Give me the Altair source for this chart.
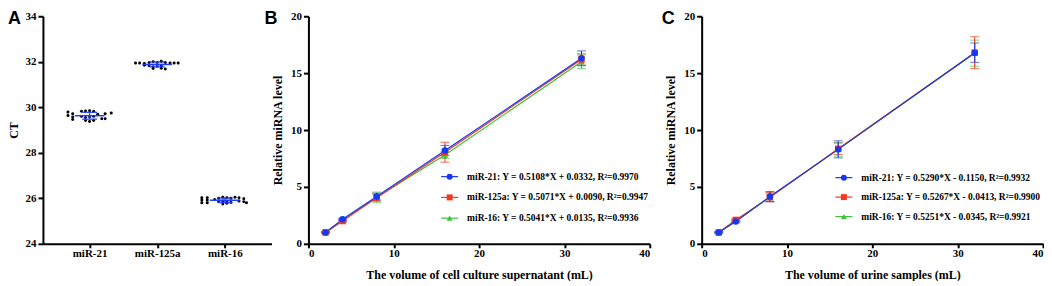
import altair as alt
import pandas as pd

# ---------------- Panel A data (CT values, dot offsets in category units) ----------------
groups = ["miR-21", "miR-125a", "miR-16"]

ct_mir21 = [29.79, 29.64, 29.72, 29.57, 29.46, 29.82, 29.84, 29.85, 29.82, 29.60, 29.55,
            29.57, 29.60, 29.69, 29.42, 29.38, 29.42, 29.50, 29.72, 29.50, 29.75]
off_mir21 = [-0.32, -0.32, -0.25, -0.25, -0.25, -0.12, -0.06, 0.0, 0.06, -0.12, -0.06,
             0.0, 0.06, 0.12, -0.06, 0.0, 0.06, 0.18, 0.23, 0.23, 0.32]

ct_mir125a = [31.95, 31.95, 31.92, 31.85, 31.97, 32.00, 31.97, 32.02, 31.97, 31.82,
              31.78, 31.80, 31.82, 31.70, 31.72, 31.68, 31.95, 31.95, 31.95]
off_mir125a = [-0.32, -0.26, -0.19, -0.19, -0.12, -0.06, 0.0, 0.06, 0.12, -0.12,
               -0.06, 0.0, 0.06, -0.06, 0.06, 0.12, 0.19, 0.25, 0.31]

ct_mir16 = [26.02, 25.92, 25.80, 26.02, 25.92, 25.80, 25.95, 26.00, 26.05, 26.02, 26.00,
            26.05, 25.85, 25.88, 25.85, 25.82, 25.75, 25.78, 26.02, 25.88, 25.98, 25.85, 25.80]
off_mir16 = [-0.34, -0.34, -0.34, -0.26, -0.26, -0.26, -0.15, -0.09, -0.03, 0.03, 0.09,
             0.15, -0.09, -0.03, 0.03, 0.09, -0.03, 0.03, 0.21, 0.21, 0.28, 0.28, 0.32]

# ---------------- Panels B / C data ----------------
volumes = [2, 4, 8, 16, 32]
series = ["miR-21", "miR-125a", "miR-16"]

b_mean_mir21 = [1.00, 2.15, 4.15, 8.20, 16.30]
b_sd_mir21 = [0.05, 0.10, 0.30, 0.45, 0.65]
b_mean_mir125a = [1.00, 2.00, 4.05, 8.05, 16.20]
b_sd_mir125a = [0.05, 0.10, 0.30, 0.88, 0.50]
b_mean_mir16 = [1.00, 2.05, 4.10, 7.80, 16.00]
b_sd_mir16 = [0.05, 0.10, 0.45, 0.30, 0.60]

c_mean_mir21 = [1.00, 1.96, 4.15, 8.30, 16.80]
c_sd_mir21 = [0.05, 0.10, 0.45, 0.75, 0.85]
c_mean_mir125a = [1.00, 2.10, 4.10, 8.35, 16.80]
c_sd_mir125a = [0.05, 0.10, 0.40, 0.50, 1.40]
c_mean_mir16 = [1.00, 2.05, 4.10, 8.30, 16.75]
c_sd_mir16 = [0.05, 0.10, 0.35, 0.60, 1.15]

b_labels = ["miR-21: Y = 0.5108*X + 0.0332, R\u00b2=0.9970",
            "miR-125a: Y = 0.5071*X + 0.0090, R\u00b2=0.9947",
            "miR-16: Y = 0.5041*X + 0.0135, R\u00b2=0.9936"]
c_labels = ["miR-21: Y = 0.5290*X - 0.1150, R\u00b2=0.9932",
            "miR-125a: Y = 0.5267*X - 0.0413, R\u00b2=0.9900",
            "miR-16: Y = 0.5251*X - 0.0345, R\u00b2=0.9921"]

colors = ["#1538f2", "#f5381c", "#3cc43c"]
shapes = ["circle", "square", "triangle-up"]
SERIF = "Liberation Serif"
SANS = "Liberation Sans"

color_scale = alt.Scale(domain=series, range=colors)
shape_scale = alt.Scale(domain=series, range=shapes)


def letter(ch, dx):
    return alt.Chart(pd.DataFrame({"t": [ch]})).mark_text(
        font=SANS, fontWeight="bold", fontSize=18, align="left", baseline="top", color="black"
    ).encode(text="t:N", x=alt.value(dx), y=alt.value(-6))


# ---------------- Panel A ----------------
rows = []
for gi, (cts, offs) in enumerate([(ct_mir21, off_mir21), (ct_mir125a, off_mir125a), (ct_mir16, off_mir16)]):
    for ct, off in zip(cts, offs):
        rows.append({"group": groups[gi], "idx": gi, "pos": gi + off, "ct": ct})
dfA = pd.DataFrame(rows)

label_expr = "[" + ",".join("'%s'" % g for g in groups) + "][datum.value]"
xA = alt.X("pos:Q", scale=alt.Scale(domain=[-0.69, 2.69], nice=False, zero=False),
           axis=alt.Axis(values=[0, 1, 2], labelExpr=label_expr, title=None,
                         labelPadding=0, tickSize=4))
yA = alt.Y("ct:Q", scale=alt.Scale(domain=[24, 34], nice=False, zero=False),
           axis=alt.Axis(values=[24, 26, 28, 30, 32, 34], title="CT", titlePadding=4))

dotsA = alt.Chart(dfA).mark_circle(size=9, color="black", opacity=1).encode(x=xA, y=yA)

statsA = alt.Chart(dfA).transform_aggregate(
    m="mean(ct)", s="stdev(ct)", groupby=["idx"]
).transform_calculate(
    lo="datum.m - datum.s", hi="datum.m + datum.s",
    ml="datum.idx - 0.22", mr="datum.idx + 0.22",
    cl="datum.idx - 0.11", cr="datum.idx + 0.11",
)
blue = "#1f3cff"
meanA = statsA.mark_rule(color=blue, strokeWidth=1.5).encode(x="ml:Q", x2="mr:Q", y="m:Q")
sdA = statsA.mark_rule(color=blue, strokeWidth=1.2).encode(x="idx:Q", y="lo:Q", y2="hi:Q")
capLoA = statsA.mark_rule(color=blue, strokeWidth=1.2).encode(x="cl:Q", x2="cr:Q", y="lo:Q")
capHiA = statsA.mark_rule(color=blue, strokeWidth=1.2).encode(x="cl:Q", x2="cr:Q", y="hi:Q")

panelA = alt.layer(dotsA, meanA, sdA, capLoA, capHiA, letter("A", -35)).properties(width=229, height=228)


# ---------------- Panels B / C ----------------
def build_df(means, sds):
    out = []
    rank = {"miR-16": 0, "miR-125a": 1, "miR-21": 2}
    for s, m_list, s_list in zip(series, means, sds):
        for v, m, sd in zip(volumes, m_list, s_list):
            out.append({"series": s, "vol": v, "mean": m, "lo": m - sd, "hi": m + sd, "rank": rank[s]})
    df = pd.DataFrame(out)
    return df.sort_values(["rank", "vol"]).reset_index(drop=True)


def line_panel(df, labels, xtitle, width, xrange, leg_x, leg_y, letter_ch, letter_dx):
    if xrange is not None:
        xscale = alt.Scale(domain=[0, 40], nice=False, zero=True, range=xrange)
    else:
        xscale = alt.Scale(domain=[0, 40], nice=False, zero=True)
    x = alt.X("vol:Q", scale=xscale,
              axis=alt.Axis(values=[0, 10, 20, 30, 40], title=xtitle, labelPadding=0,
                            tickSize=4, titlePadding=11))
    y = alt.Y("mean:Q", scale=alt.Scale(domain=[0, 20], nice=False),
              axis=alt.Axis(values=[0, 5, 10, 15, 20], title="Relative miRNA level", titlePadding=6))
    cenc = alt.Color("series:N", scale=color_scale, legend=None)
    base = alt.Chart(df)
    lines = base.mark_line(strokeWidth=1.2).encode(
        x=x, y=y, color=cenc, detail="series:N", order="vol:Q")
    errs = base.mark_errorbar(ticks=True, size=9, thickness=1).encode(
        x="vol:Q", y=alt.Y("lo:Q", title="Relative miRNA level"), y2="hi:Q", color=cenc)
    pts = base.mark_point(filled=True, size=42, opacity=1).encode(
        x="vol:Q", y="mean:Q", color=cenc,
        shape=alt.Shape("series:N", scale=shape_scale, legend=None),
        order="rank:Q")
    data_layer = alt.layer(lines, errs, pts)

    leg_df = pd.DataFrame({"series": series, "label": labels})
    ly = alt.Y("series:N", scale=alt.Scale(domain=series, range=leg_y, type="point", padding=0), axis=None)
    leg_line = alt.Chart(leg_df).mark_rule(strokeWidth=1.2).encode(
        x=alt.value(leg_x), x2=alt.value(leg_x + 17), y=ly, color=cenc)
    leg_pt = alt.Chart(leg_df).mark_point(filled=True, size=36, opacity=1).encode(
        x=alt.value(leg_x + 8.5), y=ly, color=cenc,
        shape=alt.Shape("series:N", scale=shape_scale, legend=None))
    leg_txt = alt.Chart(leg_df).mark_text(
        font=SERIF, fontWeight="bold", fontSize=9.5, align="left", baseline="middle", color="black"
    ).encode(x=alt.value(leg_x + 26), y=ly, text="label:N")
    legend_layer = alt.layer(leg_line, leg_pt, leg_txt)

    return alt.layer(data_layer, legend_layer, letter(letter_ch, letter_dx)).resolve_scale(
        y="independent").properties(width=width, height=228)


dfB = build_df([b_mean_mir21, b_mean_mir125a, b_mean_mir16], [b_sd_mir21, b_sd_mir125a, b_sd_mir16])
dfC = build_df([c_mean_mir21, c_mean_mir125a, c_mean_mir16], [c_sd_mir21, c_sd_mir125a, c_sd_mir16])

panelB = line_panel(dfB, b_labels, "The volume of cell culture supernatant (mL)", 357, [0, 342],
                    133, [160.7, 202.3], "B", -44)
panelC = line_panel(dfC, c_labels, "The volume of urine samples (mL)", 342, None,
                    134, [161.7, 200.7], "C", -40)

chart = alt.hconcat(panelA, panelB, panelC, spacing=37, bounds="flush").properties(
    padding={"top": 2, "left": 0, "right": 0, "bottom": 0}, background="white"
).configure_view(stroke=None).configure_axis(
    domainColor="black", domainWidth=2, tickColor="black", tickWidth=2, tickSize=5,
    labelFont=SERIF, labelFontWeight="bold", labelFontSize=11, labelColor="black",
    titleFont=SERIF, titleFontWeight="bold", titleFontSize=12, titleColor="black",
    grid=False,
)

chart.save("out.html", embed_options={"renderer": "svg", "actions": False})
